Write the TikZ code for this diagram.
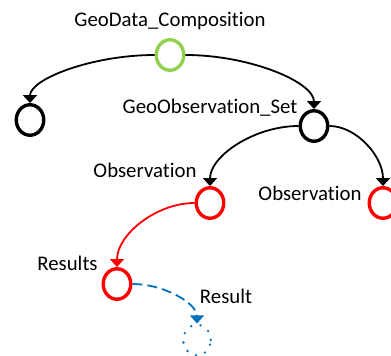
\documentclass[tikz,border=0pt]{standalone}
\usepackage{fontspec}
\setmainfont{Carlito}[Ligatures=NoCommon]
\usetikzlibrary{arrows.meta,calc,shapes.geometric}
\definecolor{ogreen}{HTML}{92D050}
\definecolor{ored}{HTML}{FF0000}
\definecolor{oblue}{HTML}{0070C0}
\tikzset{
  elem/.style={ellipse, draw, line width=3.4pt, inner sep=0pt, minimum width=27.5pt, minimum height=30.5pt},
  lbl/.style={anchor=base, inner sep=0pt, font=\fontsize{20.8}{25}\selectfont},
  conn/.style={line width=1.8pt, -{Triangle[width=14pt,length=8pt]},
    to path={let \p1=(\tikztostart), \p2=(\tikztotarget) in
      .. controls ({(\x1+\x2)/2},\y1) and (\x2,{(\y1+\y2)/2}) .. (\tikztotarget) \tikztonodes}},
}
\begin{document}
\begin{tikzpicture}[x=1pt,y=-1pt]
\useasboundingbox (0,0) rectangle (391,356);
\clip (0,0) rectangle (391,356);
% nodes
\node[elem, draw=ogreen] (g) at (170,55) {};
\node[elem, draw=black] (b1) at (30,120) {};
\node[elem, draw=black] (b2) at (314,126) {};
\node[elem, draw=ored] (r1) at (210,203) {};
\node[elem, draw=ored] (r2) at (383,203) {};
\node[elem, draw=ored] (res) at (117,284) {};
\node[elem, draw=oblue, line width=2.6pt, dash pattern=on 0pt off 9.6pt, line cap=round] (bl) at (197,340) {};
% labels
\node[lbl] (t1) at (170,27) {GeoData\_Composition};
\node[lbl] (t2) at (210,113) {GeoObservation\_Set};
\node[lbl] (t3) at (145,177) {Observation};
\node[lbl] (t4) at (310,200) {Observation};
\node[lbl] (t5) at (67.5,270) {Results};
\node[lbl] (t6) at (226,303) {Result};
% connectors
\draw[conn] (g.west) to (b1.north);
\draw[conn] (g.east) to (b2.north);
\draw[conn] (b2.west) to (r1.north);
\draw[conn] (b2.east) to (r2.north);
\draw[conn, draw=ored] (r1.west) to (res.north);
\draw[conn, draw=oblue, dash pattern=on 10pt off 5pt] (res.east) to (bl.north);
\end{tikzpicture}
\end{document}
